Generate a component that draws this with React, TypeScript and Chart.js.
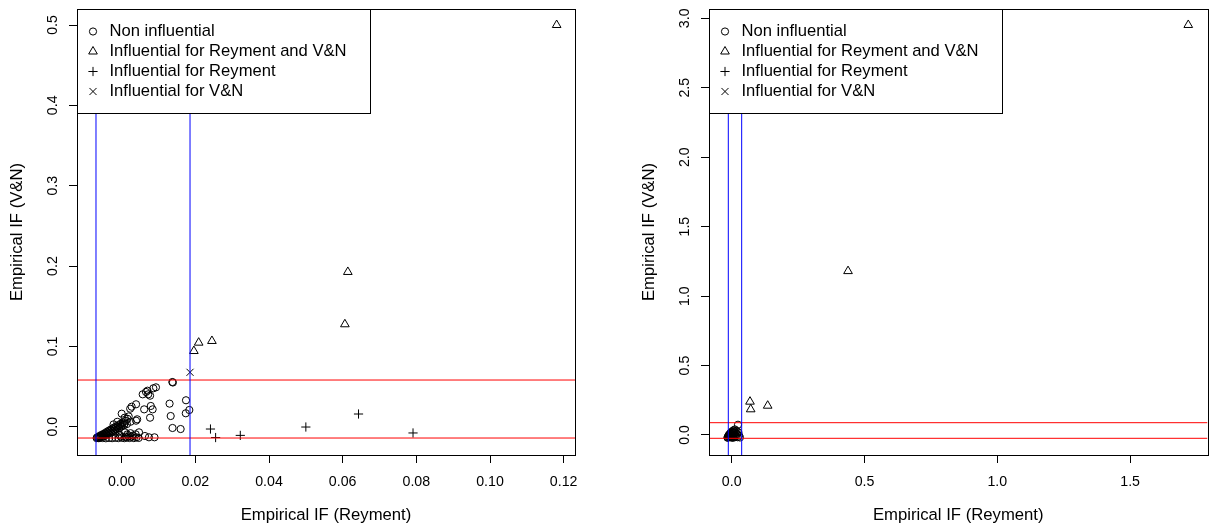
import React, { useEffect, useRef } from "react";
import { Chart, registerables } from "chart.js";
import { drawPoint } from "chart.js/helpers";

Chart.register(...registerables);

const FONT = '"Liberation Sans", Arial, Helvetica, sans-serif';

// ---------- shared text ----------
const legendLabels = [
  "Non influential",
  "Influential for Reyment and V&N",
  "Influential for Reyment",
  "Influential for V&N",
];
const legendStyles = ["circle", "triangle", "cross", "crossRot"];
const xTitle = "Empirical IF (Reyment)";
const yTitle = "Empirical IF (V&N)";

// ---------- left panel data ----------
const leftNonInfluential: [number, number][] = [
  [0.01375, 0.0556], [0.0139, 0.055], [0.0093, 0.049], [0.0086, 0.0478],
  [0.007, 0.0448], [0.0066, 0.0432], [0.0057, 0.0403], [0.0072, 0.0403], [0.0077, 0.0386],
  [0.01746, 0.0329], [0.013, 0.0287], [0.0079, 0.0258], [0.0084, 0.0216], [0.0061, 0.0216],
  [0.0039, 0.0279], [0.0027, 0.0249], [0.0023, 0.0224], [0.01836, 0.0208], [0.0174, 0.0167],
  [0.0, 0.0162], [0.0133, 0.0133], [0.0077, 0.0112], [0.0042, 0.0092], [0.0039, 0.0075],
  [0.0024, 0.0062], [0.0138, -0.0016], [0.016, -0.0029], [0.0047, -0.007], [0.0038, -0.0095],
  [0.0063, -0.0116], [0.0074, -0.0132], [0.0089, -0.0132],
  // dense diagonal band
  [-0.0068, -0.0142], [-0.0067, -0.0134], [-0.0064, -0.0139], [-0.0063, -0.0127], [-0.0061, -0.0117],
  [-0.0059, -0.0136], [-0.0058, -0.0121], [-0.0056, -0.0104], [-0.0055, -0.0129], [-0.0053, -0.0111],
  [-0.0051, -0.0093], [-0.0049, -0.0119], [-0.0048, -0.0099], [-0.0046, -0.0081], [-0.0045, -0.0108],
  [-0.0043, -0.0087], [-0.0041, -0.0066], [-0.004, -0.0097], [-0.0038, -0.0074], [-0.0036, -0.0052],
  [-0.0035, -0.0086], [-0.0033, -0.0061], [-0.0031, -0.0039], [-0.0029, -0.0072], [-0.0028, -0.0049],
  [-0.0026, -0.0024], [-0.0024, -0.0059], [-0.0022, -0.0035], [-0.0021, -0.0011], [-0.0019, -0.0046],
  [-0.0017, -0.0021], [-0.0015, 0.0004], [-0.0013, -0.0032], [-0.0011, -0.0007], [-0.0009, 0.0019],
  [-0.0007, -0.0017], [-0.0005, 0.0008], [-0.0003, 0.0036], [-0.0001, 0.0003], [0.0001, 0.0024],
  [0.0003, 0.0055], [0.0006, 0.0017], [0.0008, 0.0041], [0.0011, 0.0074], [0.0014, 0.0033],
  [0.0016, 0.0098], [0.0019, 0.0128], [-0.0012, 0.0061], [-0.0022, 0.0029], [0.0008, 0.0112],
  // bottom row
  [-0.0062, -0.0143], [-0.0052, -0.0141], [-0.0043, -0.0144], [-0.0034, -0.014], [-0.0026, -0.0143],
  [-0.0017, -0.0139], [-0.0009, -0.0142], [0.0, -0.0137], [0.0007, -0.0143], [0.0014, -0.0135],
  [0.0021, -0.0141], [0.0027, -0.0127], [0.0033, -0.0142], [0.004, -0.0132], [0.0046, -0.014],
  [0.0019, -0.0119], [0.0011, -0.0124], [-0.0003, -0.0121], [0.003, -0.0111], [0.0015, -0.0096],
  [0.0024, -0.0081], [0.0009, -0.0071], [-0.0006, -0.0101],
];
const leftInfluentialBoth: [number, number][] = [
  [0.1181, 0.5], [0.0614, 0.1926], [0.0606, 0.1275], [0.0245, 0.1067], [0.0209, 0.1046], [0.0196, 0.0942],
];
const leftInfluentialReyment: [number, number][] = [
  [0.0241, -0.0029], [0.0255, -0.0135], [0.0322, -0.0108], [0.05, -0.0004], [0.0643, 0.0158], [0.0791, -0.0078],
];
const leftInfluentialVN: [number, number][] = [[0.01855, 0.0677]];
const leftCutX = [-0.00698, 0.01855];
const leftCutY = [-0.0141, 0.0581];
const leftXTicks = [0, 0.02, 0.04, 0.06, 0.08, 0.1, 0.12];
const leftXTickLabels = ["0.00", "0.02", "0.04", "0.06", "0.08", "0.10", "0.12"];
const leftYTicks = [0, 0.1, 0.2, 0.3, 0.4, 0.5];
const leftYTickLabels = ["0.0", "0.1", "0.2", "0.3", "0.4", "0.5"];
const leftXLimits = [-0.012137, 0.123079];
const leftYLimits = [-0.035225, 0.51992];

// ---------- right panel data ----------
const rightNonInfluential: [number, number][] = [
  [-0.016, -0.018], [-0.014, -0.012], [-0.012, -0.005], [-0.0105, -0.015], [-0.009, 0.002],
  [-0.008, -0.01], [-0.007, 0.008], [-0.006, -0.016], [-0.005, 0.012], [-0.004, -0.004],
  [-0.003, 0.018], [-0.002, -0.012], [-0.001, 0.006], [0.0, 0.022], [0.001, -0.008],
  [0.002, 0.014], [0.003, 0.028], [0.004, -0.015], [0.005, 0.004], [0.006, 0.02],
  [0.007, 0.034], [0.008, -0.006], [0.009, 0.012], [0.01, 0.026], [0.011, -0.014],
  [0.012, 0.04], [0.013, 0.002], [0.014, 0.018], [0.016, -0.01], [0.018, 0.03],
  [0.02, 0.008], [0.022, -0.016], [0.0237, 0.074], [0.025, 0.02], [0.028, -0.004],
  [0.031, -0.018], [-0.015, -0.02], [-0.011, 0.0], [0.0, -0.019], [0.006, -0.02],
];
const rightInfluentialBoth: [number, number][] = [
  [1.719, 2.952], [0.438, 1.18], [0.0689, 0.24], [0.0715, 0.185], [0.1355, 0.211],
];
const rightInfluentialReyment: [number, number][] = [];
const rightInfluentialVN: [number, number][] = [];
const rightCutX = [-0.0128, 0.0376];
const rightCutY = [-0.0238, 0.0886];
const rightXTicks = [0, 0.5, 1, 1.5];
const rightXTickLabels = ["0.0", "0.5", "1.0", "1.5"];
const rightYTicks = [0, 0.5, 1, 1.5, 2, 2.5, 3];
const rightYTickLabels = ["0.0", "0.5", "1.0", "1.5", "2.0", "2.5", "3.0"];
const rightXLimits = [-0.08547, 1.79142];
const rightYLimits = [-0.144, 3.067];

type Pair = [number, number];
type PanelCfg = {
  series: Pair[][];
  cutX: number[];
  cutY: number[];
  xTicks: number[];
  xTickLabels: string[];
  yTicks: number[];
  yTickLabels: string[];
  xLim: number[];
  yLim: number[];
  padRight: number;
};

const SYMBOL_RADIUS: Record<string, number> = { circle: 3.6, triangle: 5, cross: 4.6, crossRot: 5 };

const rPlugin = {
  id: "rstyle",
  afterDatasetsDraw(chart: any) {
    const { ctx, chartArea: a } = chart;
    ctx.save();
    const l = Math.round(a.left) + 0.5;
    const t = Math.round(a.top) + 0.5;
    const w = Math.round(a.right) - Math.round(a.left);
    const h = Math.round(a.bottom) - Math.round(a.top);
    ctx.strokeStyle = "#000";
    ctx.lineWidth = 1;
    ctx.strokeRect(l, t, w, h);
    // legend
    const LW = 293;
    const LH = 104;
    ctx.fillStyle = "#fff";
    ctx.fillRect(l, t, LW, LH);
    ctx.strokeRect(l, t, LW, LH);
    ctx.font = `16.6px ${FONT}`;
    ctx.textBaseline = "middle";
    ctx.textAlign = "left";
    legendLabels.forEach((txt, i) => {
      const y = t + 22 + i * 20;
      ctx.strokeStyle = "#000";
      ctx.fillStyle = "rgba(0,0,0,0)";
      drawPoint(ctx, { pointStyle: legendStyles[i] as any, radius: SYMBOL_RADIUS[legendStyles[i]], borderWidth: 1, rotation: 0 } as any, l + 15.5, y);
      ctx.fillStyle = "#000";
      ctx.fillText(txt, l + 32, y);
    });
    ctx.restore();
  },
};

const zeroPad = (s: any) => {
  s.paddingTop = 0;
  s.paddingBottom = 0;
  s.paddingLeft = 0;
  s.paddingRight = 0;
};

function buildConfig(p: PanelCfg): any {
  const pts = (arr: Pair[]) => arr.map(([x, y]) => ({ x, y }));
  const line = (data: any[], color: string) => ({
    data,
    showLine: true,
    borderColor: color,
    borderWidth: 1,
    pointRadius: 0,
    fill: false,
    order: 0,
  });
  const datasets: any[] = [
    ...p.cutX.map((v) => line([{ x: v, y: p.yLim[0] }, { x: v, y: p.yLim[1] }], "#0000ff")),
    ...p.cutY.map((v) => line([{ x: p.xLim[0], y: v }, { x: p.xLim[1], y: v }], "#ff0000")),
    ...p.series.map((s, i) => ({
      data: pts(s),
      showLine: false,
      pointStyle: legendStyles[i],
      pointRadius: SYMBOL_RADIUS[legendStyles[i]],
      pointBorderColor: "#000",
      pointBackgroundColor: "rgba(0,0,0,0)",
      pointBorderWidth: 1,
      order: 1,
    })),
  ];
  return {
    type: "scatter",
    data: { datasets },
    plugins: [rPlugin],
    options: {
      responsive: false,
      animation: false,
      events: [],
      layout: { padding: { top: 9, right: p.padRight, bottom: 0, left: 0 }, autoPadding: false },
      plugins: { legend: { display: false }, tooltip: { enabled: false } },
      scales: {
        x: {
          type: "linear",
          min: p.xLim[0],
          max: p.xLim[1],
          afterBuildTicks: (s: any) => {
            s.ticks = p.xTicks.map((v) => ({ value: v }));
          },
          afterFit: (s: any) => {
            s.height = 69;
            zeroPad(s);
          },
          ticks: {
            autoSkip: false,
            minRotation: 0,
            maxRotation: 0,
            padding: 11.6,
            color: "#000",
            font: { family: FONT, size: 14.2, lineHeight: 1 },
            callback: (_v: any, i: number) => p.xTickLabels[i],
          },
          grid: { display: true, drawOnChartArea: false, drawTicks: true, tickLength: 8, color: "#000", lineWidth: 1 },
          border: { display: false },
          title: {
            display: true,
            text: xTitle,
            color: "#000",
            font: { family: FONT, size: 16.7, lineHeight: 1 },
            padding: { top: 0, bottom: 0 },
          },
        },
        y: {
          type: "linear",
          min: p.yLim[0],
          max: p.yLim[1],
          afterBuildTicks: (s: any) => {
            s.ticks = p.yTicks.map((v) => ({ value: v }));
          },
          afterFit: (s: any) => {
            s.width = 77;
            zeroPad(s);
          },
          ticks: {
            autoSkip: false,
            minRotation: 90,
            maxRotation: 90,
            crossAlign: "center",
            padding: 6.4,
            color: "#000",
            font: { family: FONT, size: 14.2, lineHeight: 1 },
            callback: (_v: any, i: number) => p.yTickLabels[i],
          },
          grid: { display: true, drawOnChartArea: false, drawTicks: true, tickLength: 8, color: "#000", lineWidth: 1 },
          border: { display: false },
          title: {
            display: true,
            text: yTitle,
            color: "#000",
            font: { family: FONT, size: 16.7, lineHeight: 1 },
            padding: { top: 9.35, bottom: 0 },
          },
        },
      },
    },
  };
}

function Panel({ cfg, left, width }: { cfg: PanelCfg; left: number; width: number }) {
  const ref = useRef<HTMLCanvasElement>(null);
  useEffect(() => {
    const chart = new Chart(ref.current as HTMLCanvasElement, buildConfig(cfg));
    return () => chart.destroy();
  }, []);
  return (
    <canvas
      ref={ref}
      width={width}
      height={524}
      style={{ position: "absolute", left, top: 0, width, height: 524, display: "block" }}
    />
  );
}

const leftCfg: PanelCfg = {
  series: [leftNonInfluential, leftInfluentialBoth, leftInfluentialReyment, leftInfluentialVN],
  cutX: leftCutX,
  cutY: leftCutY,
  xTicks: leftXTicks,
  xTickLabels: leftXTickLabels,
  yTicks: leftYTicks,
  yTickLabels: leftYTickLabels,
  xLim: leftXLimits,
  yLim: leftYLimits,
  padRight: 29,
};

const rightCfg: PanelCfg = {
  series: [rightNonInfluential, rightInfluentialBoth, rightInfluentialReyment, rightInfluentialVN],
  cutX: rightCutX,
  cutY: rightCutY,
  xTicks: rightXTicks,
  xTickLabels: rightXTickLabels,
  yTicks: rightYTicks,
  yTickLabels: rightYTickLabels,
  xLim: rightXLimits,
  yLim: rightYLimits,
  padRight: 1.5,
};

export default function App() {
  return (
    <div style={{ position: "absolute", left: 0, top: 0, width: 1209, height: 524, background: "#fff", overflow: "hidden" }}>
      <Panel cfg={leftCfg} left={0} width={604} />
      <Panel cfg={rightCfg} left={632} width={577} />
    </div>
  );
}
